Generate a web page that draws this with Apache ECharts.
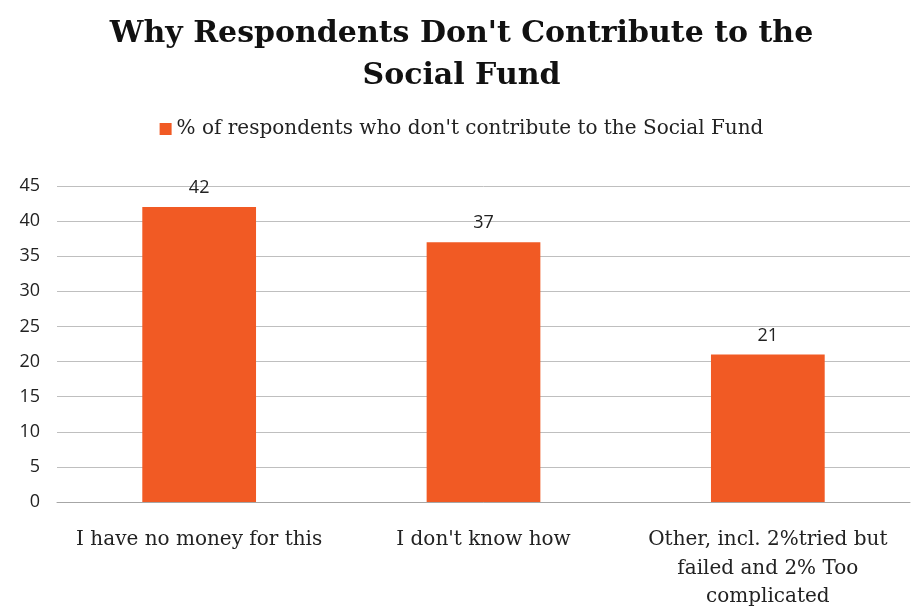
<!DOCTYPE html>
<html>
<head>
<meta charset="utf-8">
<script src="https://cdn.jsdelivr.net/npm/echarts@6/dist/echarts.min.js"></script>
<style>html,body{margin:0;padding:0;background:#fff}#c{width:923px;height:607px}</style>
</head>
<body>
<div id="c"></div>
<script>
var categories = ["I have no money for this", "I don't know how", "Other, incl. 2%tried but\nfailed and 2% Too\ncomplicated"];
var values = [42, 37, 21];
var seriesName = "% of respondents who don't contribute to the Social Fund";
var titleText = "Why Respondents Don't Contribute to the\nSocial Fund";

var chart = echarts.init(document.getElementById('c'));
chart.setOption({
  animation: false,
  title: {
    text: titleText,
    left: 'center',
    top: 8,
    textStyle: {fontFamily: 'DejaVu Serif', fontWeight: 'bold', fontSize: 30, lineHeight: 42, color: '#111'}
  },
  legend: {
    top: 114,
    left: 'center',
    itemWidth: 12, itemHeight: 12,
    icon: 'rect',
    itemGap: 6,
    textStyle: {fontFamily: 'DejaVu Serif', fontSize: 20, color: '#222'},
    data: [seriesName]
  },
  grid: {left: 57, right: 13, top: 186, bottom: 105, outerBoundsMode: 'none', containLabel: false},
  xAxis: {
    type: 'category',
    data: categories,
    axisTick: {show: false},
    axisLine: {show: true, lineStyle: {color: '#a6a6a6'}},
    axisLabel: {fontFamily: 'DejaVu Serif', fontSize: 20, color: '#222', margin: 24, lineHeight: 28.5, interval: 0}
  },
  yAxis: {
    type: 'value',
    min: 0, max: 45, interval: 5,
    axisLine: {show: false},
    axisTick: {show: false},
    splitLine: {lineStyle: {color: '#bfbfbf', width: 1}},
    axisLabel: {fontFamily: 'Open Sans', fontSize: 18, color: '#222', margin: 17, align: 'right'}
  },
  series: [{
    name: seriesName,
    type: 'bar',
    data: values,
    barWidth: '40%',
    itemStyle: {color: '#F15A24'},
    label: {show: true, position: 'top', distance: 10, fontFamily: 'Open Sans', fontSize: 18, color: '#222'}
  }]
});
</script>
</body>
</html>
